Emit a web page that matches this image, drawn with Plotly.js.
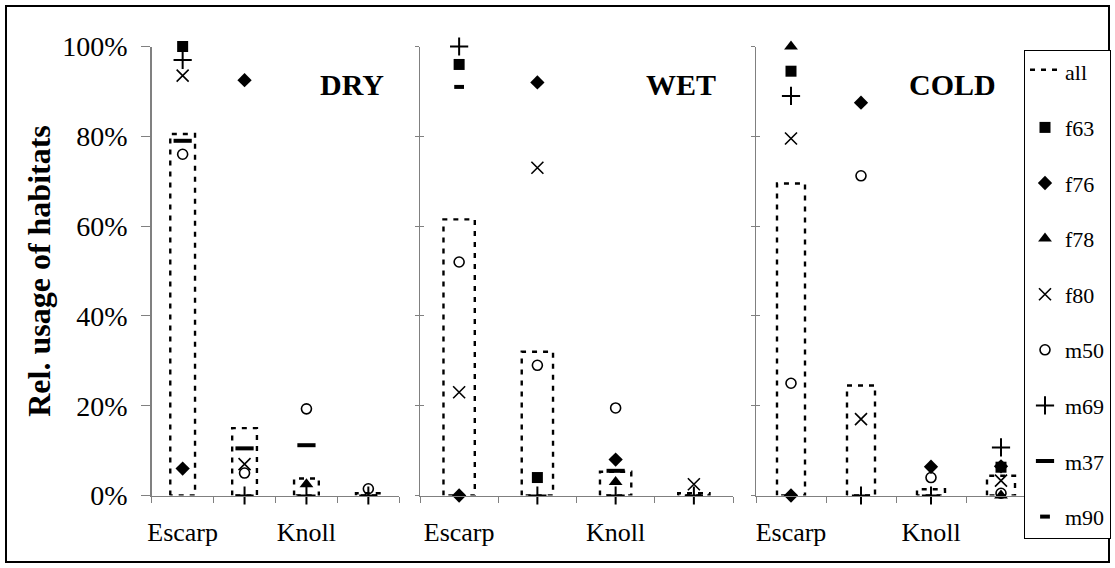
<!DOCTYPE html>
<html>
<head>
<meta charset="utf-8">
<script src="https://cdn.plot.ly/plotly-3.0.1.min.js"></script>
<style>html,body{margin:0;padding:0;background:#fff;}#chart{width:1115px;height:568px;}</style>
</head>
<body>
<div id="chart"></div>
<script>
// ---- data ----
const catPos = [0, 1, 2, 3];
const catLabels = ["Escarp", "", "Knoll", ""];
const panels = ["DRY", "WET", "COLD"];
const yTickVals = [0, 0.2, 0.4, 0.6, 0.8, 1.0];

// values in percent, per panel: [cat1, cat2, cat3, cat4]
const allDry  = [80.5, 15, 3.8, 0.5];
const allWet  = [61.5, 32, 5.3, 0.5];
const allCold = [69.5, 24.5, 1.4, 4.4];

const f63Dry  = [100, null, null, null];
const f63Wet  = [96, 4, null, null];
const f63Cold = [94.5, null, null, 6.3];

const f76Dry  = [6, 92.5, null, null];
const f76Wet  = [0, 92, 8, null];
const f76Cold = [0, 87.5, 6.4, 6.5];

const f78Dry  = [null, null, 2.5, null];
const f78Wet  = [null, null, 3, null];
const f78Cold = [100, null, null, 0];

const f80Dry  = [93.5, 7, null, null];
const f80Wet  = [23, 73, null, 2.5];
const f80Cold = [79.5, 17, null, 3.3];

const m50Dry  = [76, 5, 19.3, 1.5];
const m50Wet  = [52, 29, 19.5, null];
const m50Cold = [25, 71.2, 4, 0.5];

const m69Dry  = [97, 0, 0, 0];
const m69Wet  = [100, 0, 0, 0];
const m69Cold = [89, 0, 0, 10.7];

const m37Dry  = [79, 10.5, 11.2, null];
const m37Wet  = [null, null, 5.5, null];
const m37Cold = [null, null, null, null];

const m90Dry  = [null, null, null, null];
const m90Wet  = [91, null, null, null];
const m90Cold = [null, null, null, null];

const allData = [allDry, allWet, allCold];
const seriesNames = ["f63", "f76", "f78", "f80", "m50", "m69", "m37", "m90"];
const seriesData = {
  f63: [f63Dry, f63Wet, f63Cold],
  f76: [f76Dry, f76Wet, f76Cold],
  f78: [f78Dry, f78Wet, f78Cold],
  f80: [f80Dry, f80Wet, f80Cold],
  m50: [m50Dry, m50Wet, m50Cold],
  m69: [m69Dry, m69Wet, m69Cold],
  m37: [m37Dry, m37Wet, m37Cold],
  m90: [m90Dry, m90Wet, m90Cold]
};

// ---- styles ----
const markerStyle = {
  f63: {symbol: "square", size: 11, color: "#000", line: {width: 0}},
  f76: {symbol: "diamond", size: 11, color: "#000", line: {width: 0}},
  f78: {symbol: "triangle-up", size: 12, color: "#000", line: {width: 0}},
  f80: {symbol: "x-thin-open", size: 12, color: "#000", line: {width: 1.6, color: "#000"}},
  m50: {symbol: "circle-open", size: 10, color: "#000", line: {width: 1.6, color: "#000"}},
  m69: {symbol: "cross-thin-open", size: 13, color: "#000", line: {width: 2, color: "#000"}},
  m37: {symbol: "line-ew-open", size: 13, color: "#000", line: {width: 4, color: "#000"}},
  m90: {symbol: "line-ew-open", size: 7, color: "#000", line: {width: 4, color: "#000"}}
};

const W = 1115, H = 568;
const px = v => v / W;
const py = v => (H - v) / H;
const xDomains = [[px(151.7), px(399.3)], [px(420), px(733)], [px(756), px(1036)]];
const yDomain = [py(495.5), py(46.5)];
const FONT = "Liberation Serif";
const halfW = 0.2;

const traces = [];
// bars drawn as dotted outlines
for (let p = 0; p < 3; p++) {
  const xs = [], ys = [];
  allData[p].forEach((v, i) => {
    if (v === null) return;
    const c = catPos[i];
    xs.push(c - halfW, c - halfW, c + halfW, c + halfW, c - halfW, null);
    ys.push(0, v / 100, v / 100, 0, 0, null);
  });
  traces.push({
    type: "scatter", mode: "lines", x: xs, y: ys,
    xaxis: p === 0 ? "x" : "x" + (p + 1), yaxis: p === 0 ? "y" : "y" + (p + 1),
    name: "all", legendgroup: "all", showlegend: p === 0,
    fill: "toself", fillcolor: "rgba(255,255,255,0)",
    line: {color: "#000", width: 2.4, dash: "5px,6px"},
    hoverinfo: "skip", cliponaxis: false
  });
}
seriesNames.forEach(name => {
  for (let p = 0; p < 3; p++) {
    traces.push({
      type: "scatter", mode: "markers",
      x: catPos, y: seriesData[name][p].map(v => v === null ? null : v / 100),
      xaxis: p === 0 ? "x" : "x" + (p + 1), yaxis: p === 0 ? "y" : "y" + (p + 1),
      name: name, legendgroup: name, showlegend: p === 0,
      marker: markerStyle[name], cliponaxis: false
    });
  }
});
// dummy traces so overlay axes are drawn
[["x4", "y"], ["x5", "y2"], ["x6", "y3"], ["x2", "y4"], ["x3", "y5"]].forEach(a => {
  traces.push({type: "scatter", mode: "markers", x: [null], y: [null], xaxis: a[0], yaxis: a[1],
    showlegend: false, hoverinfo: "skip"});
});

const boundaries = [-0.5, 0.5, 1.5, 2.5, 3.5];
const baseX = d => ({
  domain: d, range: [-0.5, 3.5], tickmode: "array", tickvals: boundaries,
  showticklabels: false, ticks: "outside", ticklen: 6, tickwidth: 1, tickcolor: "#808080",
  showline: true, linecolor: "#808080", linewidth: 1.5, showgrid: false, zeroline: false,
  fixedrange: true
});
const labelX = over => ({
  overlaying: over, range: [-0.5, 3.5], tickmode: "array", tickvals: catPos, ticktext: catLabels,
  ticks: "", showline: false, showgrid: false, zeroline: false,
  tickfont: {family: FONT, size: 26, color: "#000"}, ticklabelstandoff: 18
});
const baseY = (anchor, showLabels, ticks, len) => ({
  domain: yDomain, range: [0, 1], anchor: anchor, tickmode: "array", tickvals: yTickVals,
  tickformat: ".0%", showticklabels: showLabels, ticks: ticks, ticklen: len, tickwidth: 1,
  tickcolor: "#808080", showline: true, linecolor: "#808080", linewidth: 1.5,
  showgrid: false, zeroline: false, fixedrange: true,
  tickfont: {family: FONT, size: 28, color: "#000"}
});

const layout = {
  width: W, height: H,
  margin: {l: 0, r: 0, t: 0, b: 0},
  paper_bgcolor: "#fff", plot_bgcolor: "rgba(0,0,0,0)",
  font: {family: FONT, color: "#000"},
  showlegend: true,
  legend: {
    x: px(1111), xanchor: "right", y: py(50), yanchor: "top",
    bordercolor: "#000", borderwidth: 1, bgcolor: "#fff",
    font: {family: FONT, size: 22, color: "#000"},
    traceorder: "grouped", tracegroupgap: 24, itemwidth: 30
  },
  xaxis: Object.assign(baseX(xDomains[0]), {anchor: "y"}),
  xaxis2: Object.assign(baseX(xDomains[1]), {anchor: "y2"}),
  xaxis3: Object.assign(baseX(xDomains[2]), {anchor: "y3"}),
  xaxis4: Object.assign(labelX("x"), {anchor: "y"}),
  xaxis5: Object.assign(labelX("x2"), {anchor: "y2"}),
  xaxis6: Object.assign(labelX("x3"), {anchor: "y3"}),
  yaxis: Object.assign(baseY("x", true, "outside", 9), {
    ticklabelstandoff: 8,
    title: {text: "<b>Rel. usage of habitats</b>", font: {family: FONT, size: 32, color: "#000"}, standoff: 2}
  }),
  yaxis2: baseY("x2", false, "outside", 4),
  yaxis3: baseY("x3", false, "outside", 4),
  yaxis4: Object.assign(baseY("x2", false, "inside", 4), {overlaying: "y2", showline: false}),
  yaxis5: Object.assign(baseY("x3", false, "inside", 4), {overlaying: "y3", showline: false}),
  annotations: [
    {text: "<b>DRY</b>", xref: "paper", yref: "paper", x: px(386), y: py(85), xanchor: "right", yanchor: "middle", showarrow: false, font: {family: FONT, size: 30, color: "#000"}},
    {text: "<b>WET</b>", xref: "paper", yref: "paper", x: px(718), y: py(85), xanchor: "right", yanchor: "middle", showarrow: false, font: {family: FONT, size: 30, color: "#000"}},
    {text: "<b>COLD</b>", xref: "paper", yref: "paper", x: px(998), y: py(85), xanchor: "right", yanchor: "middle", showarrow: false, font: {family: FONT, size: 30, color: "#000"}}
  ],
  shapes: [
    {type: "rect", xref: "paper", yref: "paper", x0: px(6), x1: px(1109), y0: py(562), y1: py(6),
     line: {color: "#000", width: 2}, fillcolor: "rgba(0,0,0,0)", layer: "above"}
  ]
};

Plotly.newPlot("chart", traces, layout, {displayModeBar: false, staticPlot: true});
</script>
</body>
</html>
